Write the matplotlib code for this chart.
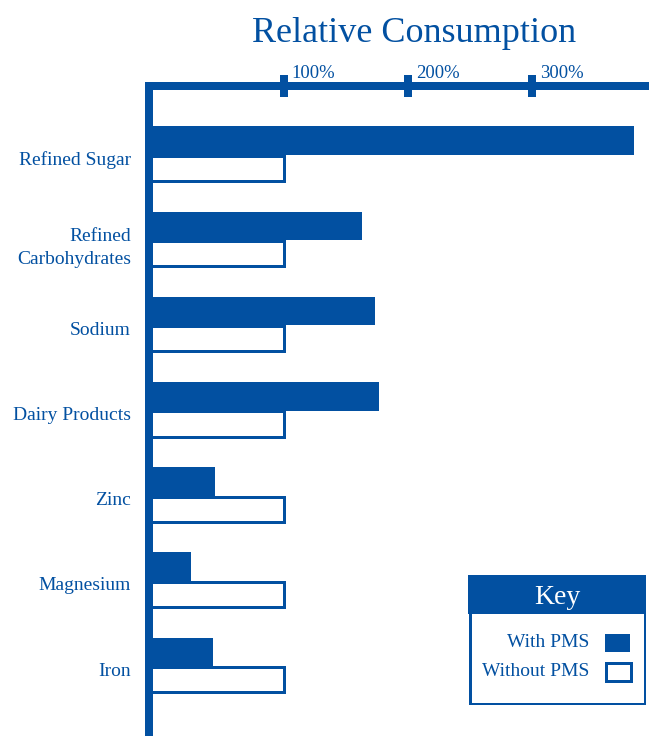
import matplotlib
matplotlib.use("Agg")
import matplotlib.pyplot as plt
import matplotlib.transforms as mtransforms
from matplotlib.patches import Rectangle

# ---- data ----
categories = ["Refined Sugar", "Refined\nCarbohydrates", "Sodium", "Dairy Products",
              "Zinc", "Magnesium", "Iron"]
with_pms = [382, 163, 173, 177, 44, 25, 43]
without_pms = [100, 100, 100, 100, 100, 100, 100]
tick_values = [100, 200, 300]
tick_labels = ["100%", "200%", "300%"]
title = "Relative Consumption"
legend_title = "Key"
legend_labels = ["With PMS", "Without PMS"]

BLUE = "#0250A1"
FONT = "Liberation Serif"
plt.rcParams["font.family"] = [FONT, "DejaVu Serif"]

W, H = 649, 736
DPI = 100
PT = 72 / DPI  # points per pixel

fig = plt.figure(figsize=(W / DPI, H / DPI), dpi=DPI)

# axes frame in pixels
ax_left, ax_right, ax_top, ax_bottom = 149, 649, 86, 736
ax = fig.add_axes([ax_left / W, 1 - ax_bottom / H, (ax_right - ax_left) / W, (ax_bottom - ax_top) / H])

xmin, xmax = -8.9, 394.4
ax.set_xlim(xmin, xmax)
ax.set_ylim(6.82, -0.81)

bar_h = 0.335
n = len(categories)
ys = list(range(n))
ax.barh([y - bar_h / 2 for y in ys], [v - xmin for v in with_pms], left=xmin,
        height=bar_h, color=BLUE, edgecolor="none", zorder=2)
ax.barh([y + bar_h / 2 - 0.01 for y in ys], [v - xmin for v in without_pms], left=xmin,
        height=bar_h - 0.04, facecolor="white", edgecolor=BLUE, linewidth=3 * PT, zorder=2)

# spines
for s in ["right", "bottom"]:
    ax.spines[s].set_visible(False)
for s in ["left", "top"]:
    ax.spines[s].set_color(BLUE)
    ax.spines[s].set_linewidth(8 * PT)
    ax.spines[s].set_zorder(5)
ax.spines["left"].set_capstyle("projecting")

# top ticks
ax.xaxis.tick_top()
ax.set_xticks(tick_values)
ax.tick_params(axis="x", direction="inout", length=23 * PT, width=8 * PT, color=BLUE,
               labeltop=False, labelbottom=False)
for t, lab in zip(tick_values, tick_labels):
    ax.annotate(lab, xy=(t, 1), xycoords=("data", "axes fraction"),
                xytext=(5.5, 6), textcoords="offset points", ha="left", va="baseline",
                color=BLUE, fontsize=13.4, annotation_clip=False)

# category labels
ax.set_yticks(ys)
ax.set_yticklabels(categories, color=BLUE, fontsize=14, linespacing=1.45)
ax.tick_params(axis="y", length=0, pad=13)
shift = mtransforms.ScaledTranslation(0, -3 / DPI, fig.dpi_scale_trans)
for lbl in ax.get_yticklabels():
    lbl.set_verticalalignment("center_baseline")
    lbl.set_transform(lbl.get_transform() + shift)
ax.set_facecolor("none")

# title
fig.text(414.5 / W, 1 - 33 / H, title, ha="center", va="center", color=BLUE, fontsize=26)

# legend (drawn in its own pixel-unit axes)
lx0, ly0, lx1, ly1 = 468, 575, 646, 705
lax = fig.add_axes([lx0 / W, 1 - ly1 / H, (lx1 - lx0) / W, (ly1 - ly0) / H])
lax.set_xlim(lx0, lx1)
lax.set_ylim(ly1, ly0)
lax.axis("off")
lax.add_patch(Rectangle((lx0 + 1.5, ly0 + 1.5), lx1 - lx0 - 3, ly1 - ly0 - 3,
                        facecolor="white", edgecolor=BLUE, linewidth=3 * PT))
lax.add_patch(Rectangle((lx0, ly0), lx1 - lx0, 614 - ly0, facecolor=BLUE, edgecolor="none"))
lax.text((lx0 + lx1) / 2, 597, legend_title, ha="center", va="center", color="white", fontsize=20)
lax.text(589, 642.5, legend_labels[0], ha="right", va="center", color=BLUE, fontsize=14)
lax.text(589, 672, legend_labels[1], ha="right", va="center", color=BLUE, fontsize=14)
lax.add_patch(Rectangle((605, 633.5), 25, 18, facecolor=BLUE, edgecolor="none"))
lax.add_patch(Rectangle((605.5, 663), 25, 17.5, facecolor="white", edgecolor=BLUE, linewidth=3 * PT))

fig.savefig("out.png", dpi=DPI)
